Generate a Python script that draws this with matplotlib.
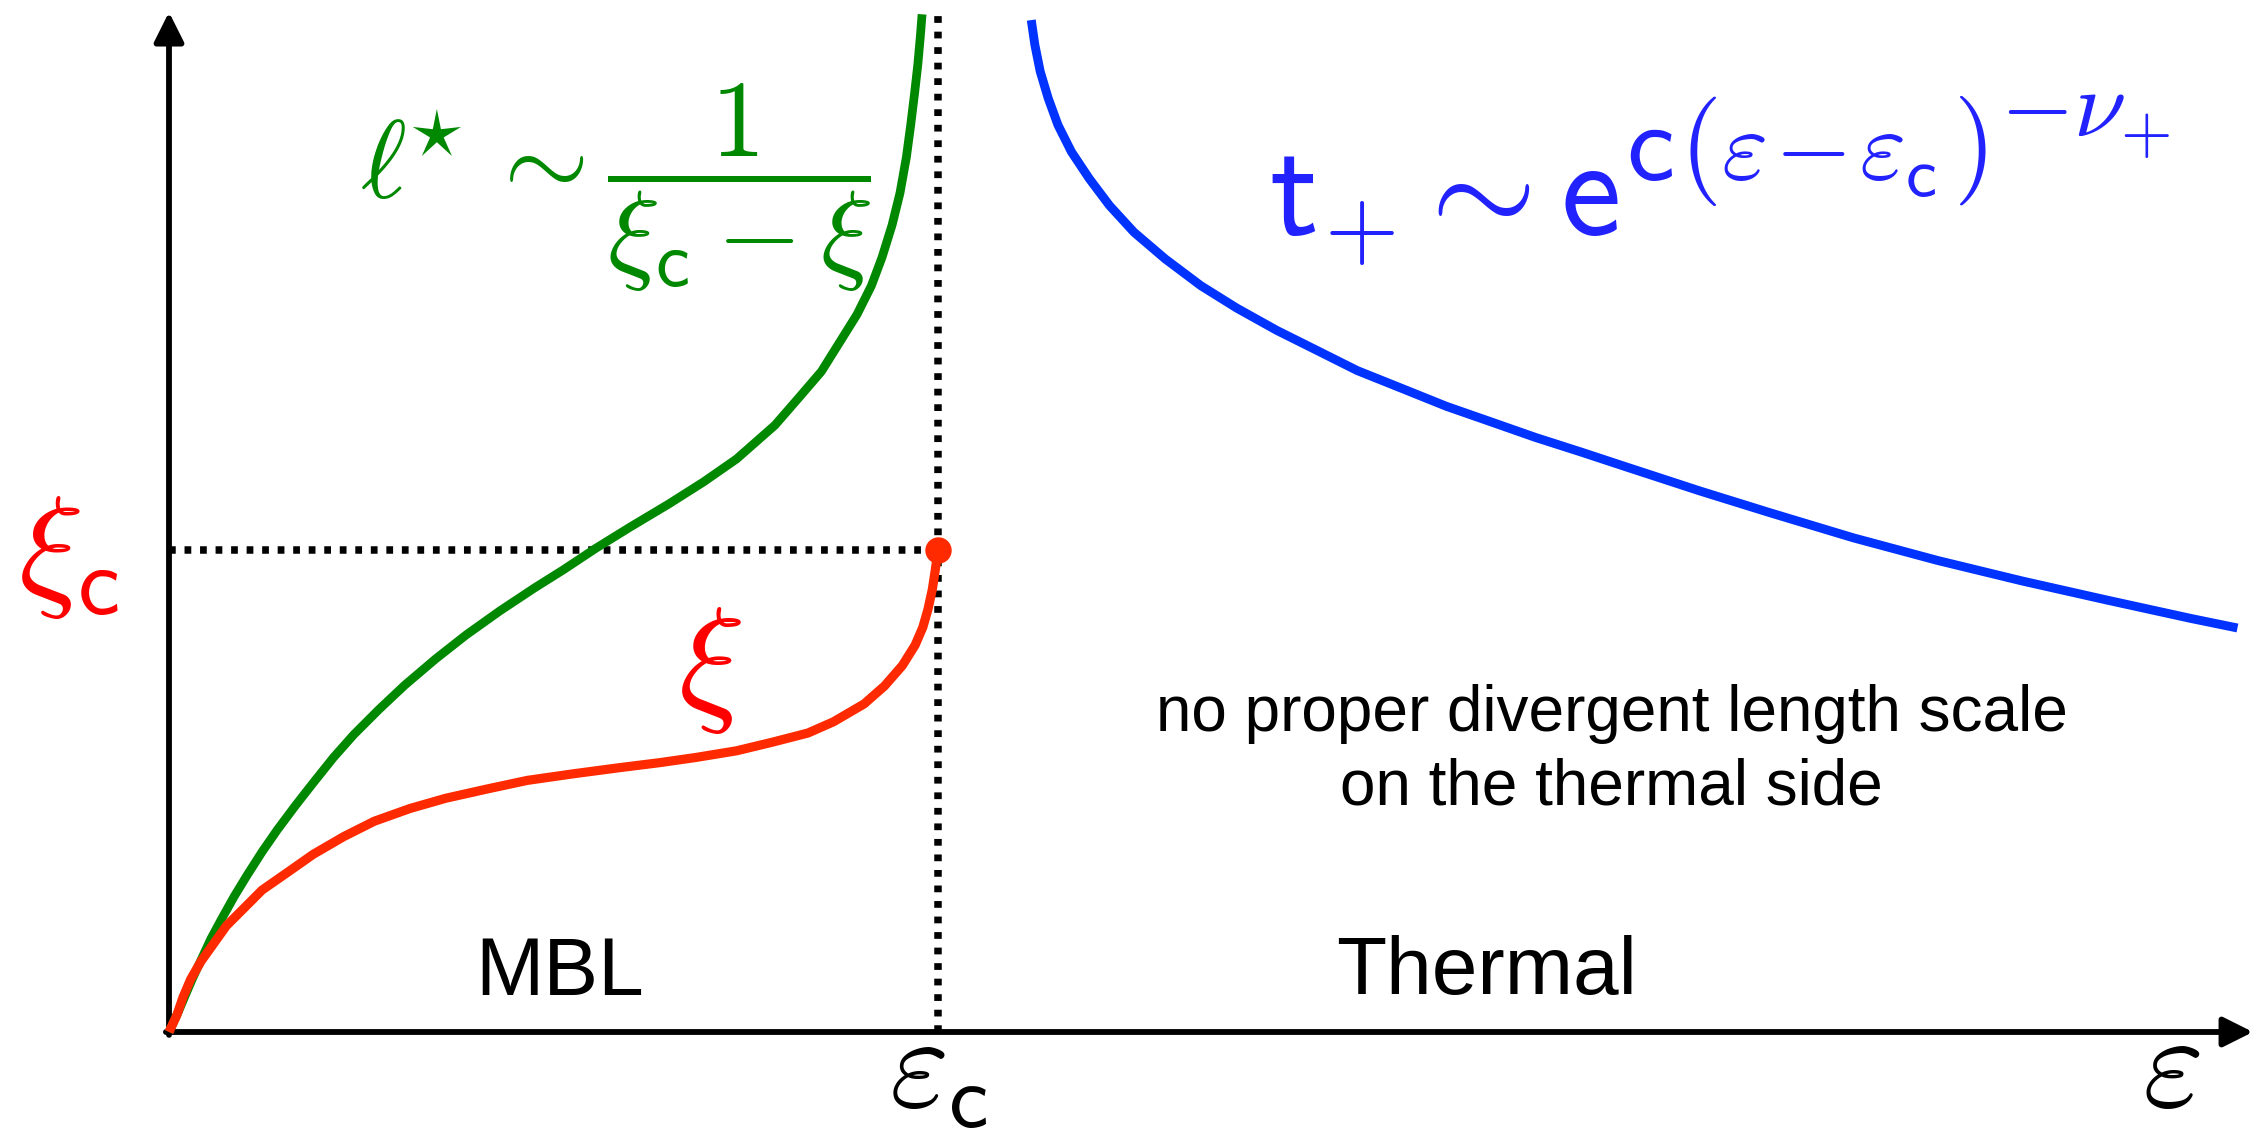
import matplotlib
matplotlib.use("Agg")
import matplotlib.pyplot as plt

plt.rcParams['font.family'] = ['Liberation Sans', 'DejaVu Sans']
plt.rcParams['mathtext.fontset'] = 'cm'

# Point critique (unités : eps_c = 1, xi_c = 1)
eps_c = 1.0
xi_c = 1.0

# Courbe verte : l* ~ 1 / (xi_c - xi)
vert_x = [0.0, 0.0116, 0.0215, 0.0315, 0.0414, 0.0546, 0.0679, 0.0845, 0.1011, 0.1210,
          0.1408, 0.1641, 0.1874, 0.2139, 0.2404, 0.2736, 0.3068, 0.3466, 0.3863, 0.4300,
          0.4750, 0.5130, 0.5550, 0.6000, 0.6500, 0.6950, 0.7380, 0.7880, 0.8205, 0.8484,
          0.8716, 0.8948, 0.9134, 0.9273, 0.9403, 0.9506, 0.9589, 0.9645, 0.9696, 0.9738,
          0.9771, 0.9793]
vert_y = [0.0, 0.0400, 0.0774, 0.1143, 0.1483, 0.1937, 0.2330, 0.2805, 0.3240, 0.3737,
          0.4193, 0.4691, 0.5166, 0.5695, 0.6172, 0.6701, 0.7199, 0.7739, 0.8237, 0.8734,
          0.9210, 0.9591, 1.0035, 1.0479, 1.0956, 1.1411, 1.1888, 1.2590, 1.3187, 1.3705,
          1.4297, 1.4890, 1.5483, 1.6076, 1.6743, 1.7409, 1.8151, 1.8817, 1.9483, 2.0077,
          2.0670, 2.1114]

# Courbe rouge : xi
rouge_x = [0.0, 0.0102, 0.0182, 0.0281, 0.0414, 0.0580, 0.0746, 0.0978, 0.1210, 0.1542,
           0.1874, 0.2272, 0.2670, 0.3134, 0.3598, 0.4129, 0.4659, 0.5258, 0.5854, 0.6385,
           0.6849, 0.7380, 0.7844, 0.8309, 0.8641, 0.9039, 0.9304, 0.9536, 0.9702, 0.9802,
           0.9869, 0.9927, 0.9967, 1.0]
rouge_y = [0.0, 0.0350, 0.0720, 0.1091, 0.1461, 0.1832, 0.2203, 0.2573, 0.2944, 0.3313,
           0.3685, 0.4054, 0.4373, 0.4637, 0.4849, 0.5039, 0.5220, 0.5357, 0.5483, 0.5589,
           0.5695, 0.5834, 0.6012, 0.6203, 0.6436, 0.6807, 0.7178, 0.7602, 0.8025, 0.8394,
           0.8766, 0.9189, 0.9612, 1.0]

# Courbe bleue : t+ côté thermique
bleu_x = [1.1213, 1.1259, 1.1329, 1.1433, 1.1560, 1.1735, 1.1967, 1.2229, 1.2547, 1.2955,
          1.3419, 1.3883, 1.4406, 1.4928, 1.5450, 1.6031, 1.6611, 1.7192, 1.7772, 1.8354,
          1.8934, 1.9909, 2.0805, 2.1902, 2.3001, 2.4099, 2.5196, 2.6295, 2.6898]
bleu_y = [2.0994, 2.0485, 1.9929, 1.9373, 1.8817, 1.8261, 1.7705, 1.7149, 1.6595, 1.6039,
          1.5483, 1.5021, 1.4556, 1.4141, 1.3724, 1.3353, 1.2981, 1.2658, 1.2334, 1.2037,
          1.1732, 1.1224, 1.0780, 1.0253, 0.9782, 0.9357, 0.8963, 0.8579, 0.8382]

# Étendue des axes dessinés (flèches)
x_fin = 2.710
y_fin = 2.116

VERT = '#008800'
ROUGE = '#ff2a00'
BLEU = '#0033ff'
BLEU_TXT = '#2222ff'

fig = plt.figure(figsize=(22.62, 11.34), dpi=100)
ax = fig.add_axes([0, 0, 1, 1])
ax.set_xlim(-169 / 769, (2262 - 169) / 769)
ax.set_ylim((1032 - 1134) / 482, 1032 / 482)
ax.axis('off')

# Axes avec flèches
fleche = dict(arrowstyle='-|>', mutation_scale=45, lw=4.2, color='black',
              shrinkA=0, shrinkB=0)
ax.annotate('', xy=(x_fin, 0), xytext=(-0.004, 0), arrowprops=fleche)
ax.annotate('', xy=(0, y_fin), xytext=(0, -0.006), arrowprops=fleche)

# Lignes pointillées du point critique
ax.plot([0, eps_c], [xi_c, xi_c], color='black', lw=5.4, dashes=(0.9, 1.17),
        dash_capstyle='butt', zorder=2)
ax.plot([eps_c, eps_c], [0, y_fin - 0.005], color='black', lw=5.4, dashes=(0.9, 1.17),
        dash_capstyle='butt', zorder=2)

# Les courbes
ax.plot(vert_x, vert_y, color=VERT, lw=6.3, solid_capstyle='butt',
        solid_joinstyle='round', zorder=3)
ax.plot(rouge_x, rouge_y, color=ROUGE, lw=6.6, solid_capstyle='butt',
        solid_joinstyle='round', zorder=4)
ax.plot(bleu_x, bleu_y, color=BLEU, lw=6.4, solid_capstyle='butt',
        solid_joinstyle='round', zorder=3)
ax.plot([eps_c], [xi_c], 'o', color=ROUGE, ms=18, zorder=5)

# Textes côté MBL
ax.text(-0.131, 0.985, r'$\xi_\mathsf{c}$', color='#ff0000', fontsize=98,
        ha='center', va='center')
ax.text(0.7035, 0.751, r'$\xi$', color='#ff0000', fontsize=100, ha='center', va='center')
ax.text(0.2484, 1.7303, r'$\ell^{\!\!\star} \sim \dfrac{1}{\xi_\mathsf{c} - \xi}$', color=VERT,
        fontsize=79, ha='left', va='baseline')

# Formule bleue, en morceaux pour garder les grandes parenthèses
ax.text(1.4300, 1.6556, r'$\mathsf{t}_{+}\sim\mathsf{e}$', color=BLEU_TXT, fontsize=98,
        ha='left', va='baseline')
ax.text(1.8947, 1.7676, r'$\mathsf{c}$', color=BLEU_TXT, fontsize=78,
        ha='left', va='baseline')
ax.text(1.9883, 1.8278, r'$($', color=BLEU_TXT, fontsize=78, ha='center', va='center')
ax.text(2.0182, 1.7676, r'$\varepsilon\hspace{0.08}{-}\hspace{0.08}\varepsilon_\mathsf{c}$',
        color=BLEU_TXT, fontsize=72, ha='left', va='baseline')
ax.text(2.3420, 1.8278, r'$)$', color=BLEU_TXT, fontsize=78, ha='center', va='center')
ax.text(2.3810, 1.8568, r'$-\nu_{+}$', color=BLEU_TXT, fontsize=68,
        ha='left', va='baseline')

# Étiquettes des axes
ax.text(eps_c, -0.088, r'$\varepsilon_\mathsf{c}$', fontsize=92, ha='center', va='center')
ax.text(2.603, -0.082, r'$\varepsilon$', fontsize=95, ha='center', va='center')

ax.text(0.508, 0.0768, 'MBL', fontsize=59, ha='center', va='baseline')
ax.text(1.5176, 0.0788, 'Thermal', fontsize=59, ha='left', va='baseline')
ax.text(1.876, 0.473, 'no proper divergent length scale\non the thermal side', fontsize=46,
        ha='center', va='baseline', multialignment='center', linespacing=1.28)

fig.savefig('out.png', dpi=100)
